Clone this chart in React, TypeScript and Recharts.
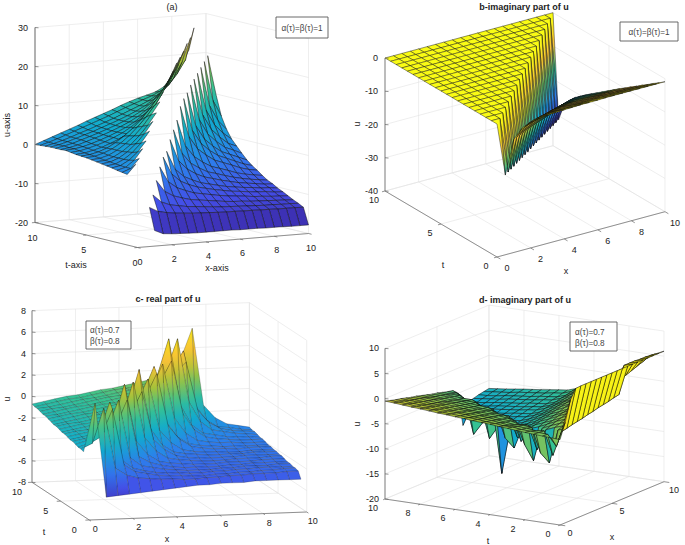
import React from 'react';
import { ScatterChart, Scatter, XAxis, YAxis } from 'recharts';

const N = null;

// grid coordinates
const stepGrid = [0,0.5,1,1.5,2,2.5,3,3.5,4,4.5,5,5.5,6,6.5,7,7.5,8,8.5,9,9.5,10];
const xC = [0,0.53,1.05,1.58,2.11,2.63,3.16,3.68,4.21,4.74,5.26,5.79,6.32,6.84,7.37,7.89,8.42,8.95,9.47,10];
const tC = [1,1.47,1.95,2.42,2.89,3.37,3.84,4.32,4.79,5.26,5.74,6.21,6.68,7.16,7.63,8.11,8.58,9.05,9.53,10];

// panel a: u(x,t), rows by t
const uA = [
[N,-15,-16,-17,-17.2,-17.3,-17.4,-17.5,-17.5,-17.5,-17.5,-17.5,-17.6,-17.6,-17.6,-17.7,-17.7,-17.7,-17.8,-17.8,-17.8],
[-2,N,-10.4,-11.6,-12.1,-12.4,-12.6,-12.8,-12.9,-13,-13.1,-13.2,-13.2,-13.3,-13.3,-13.4,-13.4,-13.5,-13.5,-13.5,-13.6],
[-1.9,.5,N,-7.7,-9.7,-10.6,-11,-11.4,-11.6,-11.8,-12,-12.2,-12.3,-12.4,-12.5,-12.6,-12.7,-12.7,-12.8,-12.8,-12.9],
[-1.7,-.9,1.5,N,-4.5,-7.5,-8.8,-9.5,-10.1,-10.4,-10.7,-11,-11.3,-11.5,-11.6,-11.8,-11.9,-12,-12.1,-12.2,-12.3],
[-1.5,-.9,.7,3.5,N,-1.5,-5.5,-7.2,-8.1,-8.9,-9.3,-9.7,-10.1,-10.4,-10.6,-10.8,-11.1,-11.2,-11.4,-11.5,-11.6],
[-1.2,-.8,.4,2.3,5,N,.5,-4,-6,-7.1,-7.9,-8.4,-8.9,-9.3,-9.7,-9.9,-10.2,-10.4,-10.5,-10.8,-10.9],
[-1,-.7,.3,1.9,4.1,7,N,1.5,-3.3,-5.3,-6.4,-7.3,-7.8,-8.3,-8.8,-9.1,-9.4,-9.6,-9.9,-10,-10.3],
[-.8,-.5,.3,1.7,3.6,6,9,N,4,-1.6,-3.9,-5.3,-6.3,-6.9,-7.5,-8,-8.5,-8.8,-9.1,-9.4,-9.5],
[-.6,-.4,.3,1.5,3.1,5.2,7.7,10.7,N,6,-.2,-2.9,-4.3,-5.5,-6.1,-6.8,-7.4,-7.9,-8.3,-8.6,-8.9],
[-.4,-.2,.4,1.5,3,4.8,7.1,9.9,13,N,8,1.2,-1.7,-3.3,-4.6,-5.3,-6,-6.8,-7.3,-7.7,-8],
[-.2,0,.6,1.5,2.8,4.5,6.6,9,11.8,15,N,11,3.1,-.2,-2,-3.5,-4.3,-5.1,-6,-6.6,-7],
[-.1,.1,.6,1.4,2.6,4.1,5.9,8,10.5,13.3,16.5,N,12.5,4.2,.7,-1.3,-2.8,-3.7,-4.6,-5.5,-6.1],
[0,.2,.7,1.3,2.1,3,4.2,5.6,7.5,10,13.5,17.5,N,13.5,4.9,1.3,-.7,-2.3,-3.2,-4.1,-5],
[.2,.4,.9,1.5,2.2,3.1,4.1,5.4,7,9,11.8,15,19,N,15,6,2.1,0,-1.7,-2.6,-3.6],
[.4,.6,1,1.6,2.3,3.1,4,5,6.2,7.7,9.6,12.4,16,20.5,N,16,6.7,2.8,.6,-1.2,-2.1],
[.3,.6,1.1,1.8,2.5,3.2,4,4.9,5.9,7.1,8.6,10.6,13.2,17,21.5,N,17,7.4,3.4,1.1,-.6],
[.3,.7,1.2,1.9,2.6,3.3,4.1,4.9,5.8,6.8,8,9.6,11.6,14.4,18,22.5,N,18,8.1,4,1.6],
[.3,.7,1.3,2,2.7,3.4,4.2,5,5.8,6.7,7.7,8.8,10.2,12,14.8,19,24,N,19,8.9,4.6],
[.2,.7,1.3,2,2.8,3.5,4.3,5.1,5.9,6.8,7.7,8.6,9.6,10.8,12.4,15,19,25,N,20,9.6],
[.1,.7,1.4,2.2,3,3.8,4.6,5.4,6.2,7.1,8,8.8,9.6,10.4,11.4,12.8,15.5,19,27,N,21],
[0,.8,1.6,2.4,3.2,4,4.9,5.7,6.5,7.3,8.2,9,9.7,10.3,10.9,12,14.5,17,21,30,N],
];

// panel b
const uB = [
[0,-16,-6,-3.3,-2.1,-1.7,-1.4,-1.3,-1.2,-1.1,-1,-1,-1,-.9,-.9,-.9,-.9,-.9,-.9,-.9,-.9],
[0,0,-16.8,-7,-4.5,-3.3,-2.9,-2.6,-2.5,-2.4,-2.4,-2.3,-2.2,-2.2,-2.2,-2.2,-2.2,-2.2,-2.2,-2.2,-2.2],
[0,0,0,-17.6,-8.1,-5.7,-4.5,-4.1,-3.8,-3.8,-3.7,-3.6,-3.5,-3.4,-3.4,-3.4,-3.4,-3.4,-3.4,-3.4,-3.4],
[0,0,0,0,-18.4,-9.2,-6.9,-5.7,-5.3,-5.1,-5,-4.9,-4.9,-4.8,-4.7,-4.7,-4.7,-4.7,-4.7,-4.7,-4.7],
[0,0,0,0,0,-19.2,-10.3,-8,-7,-6.6,-6.3,-6.2,-6.2,-6.1,-6,-5.9,-5.9,-5.9,-5.9,-5.9,-5.9],
[0,0,0,0,0,0,-20,-11.4,-9.2,-8.2,-7.8,-7.5,-7.5,-7.4,-7.3,-7.3,-7.2,-7.2,-7.2,-7.2,-7.2],
[0,0,0,0,0,0,0,-20.8,-12.5,-10.4,-9.4,-9,-8.8,-8.7,-8.6,-8.6,-8.5,-8.4,-8.4,-8.4,-8.4],
[0,0,0,0,0,0,0,0,-21.6,-13.6,-11.6,-10.6,-10.2,-10,-9.9,-9.9,-9.8,-9.8,-9.7,-9.7,-9.7],
[0,0,0,0,0,0,0,0,0,-22.4,-14.7,-12.7,-11.8,-11.5,-11.2,-11.2,-11.1,-11.1,-11,-10.9,-10.9],
[0,0,0,0,0,0,0,0,0,0,-23.2,-15.8,-13.9,-13,-12.7,-12.5,-12.4,-12.4,-12.3,-12.3,-12.2],
[0,0,0,0,0,0,0,0,0,0,0,-24,-16.9,-15.1,-14.2,-13.9,-13.7,-13.7,-13.6,-13.6,-13.5],
[0,0,0,0,0,0,0,0,0,0,0,0,-24.8,-18,-16.3,-15.5,-15.2,-15,-14.9,-14.9,-14.8],
[0,0,0,0,0,0,0,0,0,0,0,0,0,-25.6,-19.1,-17.5,-16.7,-16.4,-16.2,-16.1,-16.1],
[0,0,0,0,0,0,0,0,0,0,0,0,0,0,-26.4,-20.2,-18.6,-17.9,-17.6,-17.4,-17.4],
[0,0,0,0,0,0,0,0,0,0,0,0,0,0,0,-27.2,-21.3,-19.8,-19.1,-18.8,-18.7],
[0,0,0,0,0,0,0,0,0,0,0,0,0,0,0,0,-28,-22.4,-21,-20.3,-20.1],
[0,0,0,0,0,0,0,0,0,0,0,0,0,0,0,0,0,-28.8,-23.5,-22.2,-21.5],
[0,0,0,0,0,0,0,0,0,0,0,0,0,0,0,0,0,0,-29.6,-24.6,-23.3],
[0,0,0,0,0,0,0,0,0,0,0,0,0,0,0,0,0,0,0,-30.4,-25.7],
[0,0,0,0,0,0,0,0,0,0,0,0,0,0,0,0,0,0,0,0,-31.2],
[0,0,0,0,0,0,0,0,0,0,0,0,0,0,0,0,0,0,0,0,0],
];

// panel c
const uC = [
[-2,2.5,-6.3,-6.2,-6.1,-6,-5.9,-5.8,-5.7,-5.6,-5.5,-5.5,-5.4,-5.4,-5.4,-5.3,-5.3,-5.3,-5.3,-5.3],
[-1.9,-1.4,1.8,-3.8,-4.5,-4.8,-4.9,-5,-5,-5.1,-5.1,-5,-5,-4.9,-4.9,-4.8,-4.8,-4.8,-4.7,-4.7],
[-1.9,-1.6,-1,1.5,-3.7,-4.4,-4.6,-4.8,-4.9,-4.9,-5,-5,-4.9,-4.9,-4.8,-4.8,-4.7,-4.7,-4.6,-4.6],
[-1.8,-1.5,-1,2,-3.4,-4.2,-4.5,-4.7,-4.8,-4.8,-4.9,-4.9,-4.8,-4.8,-4.7,-4.7,-4.6,-4.6,-4.6,-4.6],
[-1.7,-1.5,-1.2,-.7,2,-3.4,-4.2,-4.4,-4.6,-4.7,-4.8,-4.8,-4.8,-4.7,-4.7,-4.6,-4.6,-4.6,-4.5,-4.5],
[-1.7,-1.5,-1.3,-1.1,-.6,1.8,-3.5,-4.1,-4.4,-4.6,-4.7,-4.7,-4.7,-4.7,-4.6,-4.6,-4.5,-4.5,-4.5,-4.5],
[-1.6,-1.4,-1.2,-1,-.5,3.1,-2.2,-3.5,-4.2,-4.4,-4.5,-4.6,-4.6,-4.6,-4.5,-4.5,-4.5,-4.4,-4.4,-4.4],
[-1.5,-1.3,-1.2,-1,-.8,-.3,3.1,-2.1,-3.4,-4.1,-4.3,-4.4,-4.5,-4.5,-4.5,-4.4,-4.4,-4.4,-4.3,-4.3],
[-1.5,-1.3,-1.1,-.9,-.8,-.6,-.1,2,-2.5,-3.5,-4.1,-4.3,-4.4,-4.4,-4.4,-4.4,-4.3,-4.3,-4.3,-4.3],
[-1.4,-1.2,-1,-.9,-.7,-.5,.4,3.9,-1.7,-3.2,-3.9,-4.1,-4.2,-4.3,-4.3,-4.3,-4.3,-4.2,-4.2,-4.2],
[-1.3,-1.1,-1,-.8,-.6,-.4,-.2,.6,2.8,-2,-3.2,-3.9,-4.1,-4.2,-4.2,-4.3,-4.3,-4.2,-4.2,-4.2],
[-1.3,-1.1,-.9,-.7,-.5,-.4,-.2,0,.9,3.1,-1.8,-3.1,-3.8,-4,-4.1,-4.1,-4.2,-4.1,-4.1,-4.1],
[-1.2,-1,-.8,-.6,-.5,-.3,-.1,.1,1.1,3.6,-1.5,-3,-3.7,-3.9,-4,-4.1,-4.1,-4.1,-4.1,-4.1],
[-1.1,-.9,-.7,-.6,-.4,-.2,0,.1,.3,1.3,3.6,-1.4,-2.9,-3.6,-3.8,-3.9,-3.9,-4,-4,-4],
[-1,-.9,-.7,-.5,-.3,-.1,0,.2,.4,.6,1.7,3.7,-1.3,-2.8,-3.5,-3.7,-3.8,-3.9,-3.9,-3.9],
[-1,-.8,-.6,-.4,-.3,-.1,.1,.3,.4,.7,2.2,5.6,-.6,-2.5,-3.3,-3.5,-3.7,-3.8,-3.8,-3.9],
[-.9,-.7,-.6,-.4,-.2,0,.2,.3,.5,.7,.9,2.4,5.4,-.5,-2.4,-3.2,-3.4,-3.6,-3.7,-3.8],
[-.8,-.7,-.5,-.3,-.1,0,.2,.4,.6,.8,1,1.2,2,3,-1.5,-2.7,-3.3,-3.5,-3.6,-3.7],
[-.8,-.6,-.4,-.2,-.1,.1,.3,.5,.6,.8,1,1.2,2.2,3.9,-1.2,-2.6,-3.3,-3.4,-3.6,-3.7],
[-.7,-.5,-.3,-.1,0,.2,.4,.5,.7,.9,1.1,1.2,1.5,3,5.8,-1.4,-2.6,-3.2,-3.4,-3.6],
];

// panel d
const uD = [
[-3,0,4,5.9,6,6,6,6,6,6,6,6,6,6,6,6,6,6,6,6,6],
[-2.9,-5,-2.5,-2.3,-2,-1.8,-1.6,-1.3,-1.1,-.8,-.6,-.4,-.1,.1,5.5,5.5,5.5,5.4,5.4,5.3,5.2],
[-2.8,-2.9,-7.5,-2.9,-2.5,-2.1,-1.7,-1.3,-.9,-.5,-.1,.4,.8,1.2,1.6,2,2.4,2.8,3.2,3.6,4],
[-2.7,-2.8,-2.9,-9.7,-3.1,-2.7,-2.3,-1.9,-1.6,-1.2,-.8,-.4,0,.3,.7,1.1,1.5,1.9,2.2,2.6,3],
[-2.6,-2.8,-3.1,-8,-3.8,-3.4,-3,-2.7,-2.3,-2,-1.6,-1.2,-.9,-.5,-.2,.2,.6,.9,1.3,1.6,2],
[-2.45,-2.7,-2.9,-3.2,-8,-4.2,-3.8,-3.5,-3.1,-2.8,-2.5,-2.1,-1.8,-1.4,-1.1,-.7,-.4,0,.3,.7,1],
[-2.3,-2.5,-2.8,-3,-3.4,-10.9,-4.6,-4.2,-3.9,-3.6,-3.3,-2.9,-2.6,-2.3,-2,-1.6,-1.3,-1,-.7,-.3,0],
[-2.2,-2.5,-2.8,-3.1,-3.5,-8,-5.2,-4.9,-4.6,-4.3,-4,-3.7,-3.4,-3.1,-2.8,-2.5,-2.2,-1.9,-1.6,-1.3,-1],
[-2,-2.3,-2.6,-2.9,-3.1,-3.6,-8,-5.8,-5.5,-5.2,-4.9,-4.6,-4.3,-4,-3.7,-3.5,-3.2,-2.9,-2.6,-2.3,-2],
[-1.9,-2.2,-2.4,-2.7,-3,-3.2,-3.8,-8,-6.2,-6,-5.7,-5.4,-5.2,-4.9,-4.6,-4.4,-4.1,-3.8,-3.5,-3.3,-3],
[-1.8,-2,-2.3,-2.5,-2.8,-3,-3.3,-3.9,-10.7,-6.6,-6.4,-6.2,-5.9,-5.7,-5.4,-5.2,-5,-4.7,-4.5,-4.2,-4],
[-1.65,-1.9,-2.2,-2.4,-2.7,-2.9,-3.2,-4,-9,-7.2,-7,-6.8,-6.5,-6.3,-6,-5.8,-5.6,-5.3,-5.1,-4.8,-4.6],
[-1.55,-1.8,-2,-2.3,-2.5,-2.8,-3,-3.3,-4.1,-16.7,-7.2,-7,-6.7,-6.5,-6.2,-6,-5.8,-5.5,-5.3,-5,-4.8],
[-1.4,-1.7,-1.9,-2.2,-2.4,-2.7,-2.9,-3.2,-3.4,-4.2,-8,-7.2,-7,-6.7,-6.5,-6.3,-6,-5.8,-5.5,-5.3,-5.05],
[-1.3,-1.6,-1.8,-2.1,-2.3,-2.6,-2.8,-3.1,-3.3,-4.3,-10.7,-7.5,-7.2,-7,-6.7,-6.5,-6.3,-6,-5.8,-5.5,-5.3],
[-1.15,-1.4,-1.7,-1.9,-2.2,-2.4,-2.7,-2.9,-3.2,-3.4,-4.4,-8,-7.4,-7.2,-6.9,-6.7,-6.5,-6.2,-6,-5.7,-5.5],
[-1,-1.3,-1.5,-1.8,-2,-2.3,-2.5,-2.8,-3,-3.3,-3.5,-4.5,-9,-7.4,-7.1,-6.9,-6.7,-6.4,-6.2,-5.9,-5.7],
[-.9,-1.2,-1.4,-1.7,-2,-2.2,-2.5,-2.8,-3,-3.3,-3.5,-4.6,-11.5,-7.6,-7.4,-7.2,-6.9,-6.7,-6.4,-6.2,-5.95],
[-.75,-1,-1.3,-1.5,-1.8,-2.1,-2.3,-2.6,-2.9,-3.1,-3.4,-3.6,-4.7,-9,-7.6,-7.4,-7.2,-6.9,-6.7,-6.4,-6.2],
[-.6,-.9,-1.1,-1.4,-1.7,-1.9,-2.2,-2.5,-2.8,-3,-3.3,-3.6,-3.8,-4.8,-8,-7.6,-7.4,-7.1,-6.9,-6.6,-6.4],
[-.5,-.8,-1.1,-1.3,-1.6,-1.9,-2.1,-2.4,-2.7,-3,-3.2,-3.5,-3.8,-4,-4.9,-11.8,-7.5,-7.3,-7,-6.8,-6.6],
];

const ticksEvenX = [0,2,4,6,8,10];
const ticksT5 = [0,5,10];
const ticksUA = [-20,-10,0,10,20,30];
const ticksUB = [-40,-30,-20,-10,0];
const ticksUC = [-8,-6,-4,-2,0,2,4,6,8];
const ticksUD = [-20,-15,-10,-5,0,5,10];

const parula: [number,number,number][] = [
[.2422,.1504,.6603],[.2810,.3228,.9579],[.1786,.5289,.9682],[.0689,.6948,.8394],
[.2161,.7843,.5923],[.6720,.7793,.2227],[.9970,.7659,.2199],[.9606,.8963,.1],[.9769,.9839,.0805]];

function colorAt(f: number, dim = 0.94) {
  const v = Math.max(0, Math.min(0.9999, f)) * (parula.length - 1);
  const i = Math.floor(v), r = v - i;
  const a = parula[i], b = parula[i + 1];
  const s = 1 - (1 - dim) * (1 - Math.min(1, f));
  const ch = (k: number) => Math.round(255 * s * (a[k] + (b[k] - a[k]) * r));
  return `rgb(${ch(0)},${ch(1)},${ch(2)})`;
}

type Cam = { o:[number,number]; ex:[number,number]; et:[number,number]; eu:number; umin:number; umax:number };
const project = (c: Cam, x: number, t: number, u: number): [number,number] => [
  c.o[0] + x * c.ex[0] + t * c.et[0],
  c.o[1] + x * c.ex[1] + t * c.et[1] - (u - c.umin) * c.eu,
];

const poly = (pts: [number,number][], style: any) => ({
  kind: 'poly', px: pts[0][0], py: pts[0][1],
  pts: pts.map(p => [p[0] - pts[0][0], p[1] - pts[0][1]]), ...style,
});
const label = (px: number, py: number, text: string, style: any = {}) => ({ kind: 'text', px, py, text, ...style });

const PANELS: any[] = [
  { id:'a', cam:{o:[137.5,247.5],ex:[17.1,-1.4],et:[-10.25,-2.5],eu:3.9,umin:-20,umax:30},
    xs:stepGrid, ts:stepGrid, u:uA, clim:[-18,42], flat:false, sw:.55, so:.85,
    tx:ticksEvenX, tt:ticksT5, tu:ticksUA, ox:[2.5,14], ot:[-2.5,15], ou:-7, axisW:1.3, axisC:'#8c8c8c',
    title:'(a)', titleAt:[172,7], titleBold:false, xl:['x-axis',217,268], tl:['t-axis',76,265], ul:['u-axis',7,125],
    box:[276,17,52,21], legend:[['α(τ)=β(τ)=1',302,28,'middle']] },
  { id:'b', cam:{o:[497,257],ex:[16.8,-4.53],et:[-11.2,-6.6],eu:3.325,umin:-40,umax:0},
    xs:stepGrid, ts:stepGrid, u:uB, clim:[-31,0], flat:false, sw:.5, so:.85,
    tx:ticksEvenX, tt:ticksT5, tu:ticksUB, ox:[10,11], ot:[-11,9], ou:-7, axisW:.8, axisC:'#666',
    title:'b-imaginary part of u', titleAt:[524,7], titleBold:true, xl:['x',566,271], tl:['t',443,265], ul:['u',357,124],
    box:[620,22,58,19], legend:[['α(τ)=β(τ)=1',649,32,'middle']] },
  { id:'c', cam:{o:[89.3,520],ex:[21.74,-.8],et:[-5.73,-3.77],eu:10.73,umin:-8,umax:8},
    xs:xC, ts:tC, u:uC, clim:[-7.5,7.5], flat:false, sw:.4, so:.55,
    tx:ticksEvenX, tt:ticksT5, tu:ticksUC, ox:[6,9], ot:[-15,10], ou:-6, axisW:.8, axisC:'#666',
    title:'c- real part of u', titleAt:[168,299], titleBold:true, xl:['x',167,539], tl:['t',44,532], ul:['u',7,399],
    box:[86,321,45,28], legend:[['α(τ)=0.7',90,330,'start'],['β(τ)=0.8',90,341,'start']] },
  { id:'d', cam:{o:[560,525],ex:[10.4,-4.33],et:[-17.5,-2.6],eu:5.02,umin:-20,umax:10},
    xs:stepGrid, ts:stepGrid, u:uD, clim:[-16,7], flat:true, sw:.6, so:.85,
    tx:ticksT5, tt:ticksEvenX, tu:ticksUD, ox:[10,8], ot:[-12,9], ou:-6, axisW:.8, axisC:'#666',
    title:'d- imaginary part of u', titleAt:[525,300], titleBold:true, xl:['x',612,537], tl:['t',488,541], ul:['u',357,424],
    box:[570,322,47,29], legend:[['α(τ)=0.7',575,332,'start'],['β(τ)=0.8',575,343,'start']] },
];

function buildWalls(p: any) {
  const c: Cam = p.cam; const out: any[] = [];
  const g = { stroke:'#e2e2e2', sw:.6 };
  const seg = (a:[number,number], b:[number,number], s:any) => out.push(poly([a,b], s));
  for (const x of p.tx) {
    seg(project(c,x,0,c.umin), project(c,x,10,c.umin), g);
    seg(project(c,x,10,c.umin), project(c,x,10,c.umax), g);
  }
  for (const t of p.tt) {
    seg(project(c,0,t,c.umin), project(c,10,t,c.umin), g);
    seg(project(c,10,t,c.umin), project(c,10,t,c.umax), g);
  }
  for (const u of p.tu) {
    seg(project(c,0,10,u), project(c,10,10,u), g);
    seg(project(c,10,10,u), project(c,10,0,u), g);
  }
  return out;
}

function buildSurface(p: any) {
  const c: Cam = p.cam; const [lo,hi] = p.clim; const f = (v:number) => (v-lo)/(hi-lo);
  const facets: any[] = [];
  for (let j = 0; j < p.ts.length - 1; j++) for (let i = 0; i < p.xs.length - 1; i++) {
    const cs: [number,number][] = [[i,j],[i+1,j],[i+1,j+1],[i,j+1]];
    const us = cs.map(([a,b]) => p.u[b][a]);
    if (us.some((v:any) => v === null)) continue;
    const pts = cs.map(([a,b],k) => project(c,p.xs[a],p.ts[b],us[k]));
    const depth = cs.reduce((s,[a,b]) => s + p.xs[a]*c.ex[1] + p.ts[b]*c.et[1], 0);
    const mx = Math.max(...us), mn = Math.min(...us);
    const mean = us.reduce((s:number,v:number)=>s+v,0)/4;
    const st: any = { stroke:'#0c0c0c', sw:p.sw, so:p.so, close:true };
    if (p.flat) st.fill = colorAt(f(Math.max(us[0], mean)));
    else if (f(mx) - f(mn) > .12) {
      const a = pts[us.indexOf(mx)], b = pts[us.indexOf(mn)];
      st.grad = { id:`g${p.id}${i}_${j}`, a:[a[0]-pts[0][0],a[1]-pts[0][1]], b:[b[0]-pts[0][0],b[1]-pts[0][1]],
        stops:[0,.25,.5,.75,1].map(q => colorAt(f(mx + (mn-mx)*q))) };
    } else st.fill = colorAt(f(mean));
    facets.push({ depth, rec: poly(pts, st) });
  }
  facets.sort((a,b) => a.depth - b.depth);
  return facets.map(x => x.rec);
}

function buildFrame(p: any) {
  const c: Cam = p.cam; const out: any[] = [];
  const ax = { stroke:p.axisC, sw:p.axisW };
  const tk = { stroke:'#666', sw:.7 };
  out.push(poly([project(c,0,10,c.umin), project(c,0,10,c.umax)], ax));
  out.push(poly([project(c,0,0,c.umin), project(c,10,0,c.umin)], { stroke:'#777', sw:.8 }));
  out.push(poly([project(c,0,0,c.umin), project(c,0,10,c.umin)], { stroke:'#777', sw:.8 }));
  for (const x of p.tx) {
    const a = project(c,x,0,c.umin);
    out.push(poly([a,[a[0]+c.et[0]*-.3,a[1]+c.et[1]*-.3]], tk));
    out.push(label(a[0]+p.ox[0], a[1]+p.ox[1], String(x)));
  }
  for (const t of p.tt) {
    const a = project(c,0,t,c.umin);
    out.push(poly([a,[a[0]+c.ex[0]*-.18,a[1]+c.ex[1]*-.18]], tk));
    out.push(label(a[0]+p.ot[0], a[1]+p.ot[1], String(t)));
  }
  for (const u of p.tu) {
    const a = project(c,0,10,u);
    out.push(poly([a,[a[0]+3.5,a[1]+.3]], tk));
    out.push(label(a[0]+p.ou, a[1], String(u), { anchor:'end' }));
  }
  out.push(label(p.titleAt[0], p.titleAt[1], p.title, { bold:p.titleBold, size:9 }));
  out.push(label(p.xl[1], p.xl[2], p.xl[0]));
  out.push(label(p.tl[1], p.tl[2], p.tl[0]));
  out.push(label(p.ul[1], p.ul[2], p.ul[0], { rotate:-90 }));
  const [bx,by,bw,bh] = p.box;
  out.push(poly([[bx,by],[bx+bw,by],[bx+bw,by+bh],[bx,by+bh]], { stroke:'#5a5a5a', sw:.9, fill:'#fff', close:true }));
  for (const [s,lx,ly,an] of p.legend) out.push(label(lx, ly, s, { anchor:an, size:8.2, color:'#444' }));
  return out;
}

function Mark(props: any) {
  const { cx, cy, payload: d } = props;
  if (d.kind === 'text') {
    return (
      <text x={cx} y={cy} textAnchor={d.anchor || 'middle'} dominantBaseline="central"
        fontFamily="Liberation Sans, Arial, sans-serif" fontSize={d.size || 9}
        fontWeight={d.bold ? 700 : 400} fill={d.color || '#222'}
        transform={d.rotate ? `rotate(${d.rotate} ${cx} ${cy})` : undefined}>{d.text}</text>
    );
  }
  const pts = d.pts.map((q: number[]) => `${(cx + q[0]).toFixed(2)},${(cy + q[1]).toFixed(2)}`).join(' ');
  if (!d.close) return <polyline points={pts} fill="none" stroke={d.stroke} strokeWidth={d.sw} />;
  if (d.grad) {
    const g = d.grad;
    return (
      <g>
        <defs>
          <linearGradient id={g.id} gradientUnits="userSpaceOnUse"
            x1={cx + g.a[0]} y1={cy + g.a[1]} x2={cx + g.b[0]} y2={cy + g.b[1]}>
            {g.stops.map((s: string, k: number) => <stop key={k} offset={k / 4} stopColor={s} />)}
          </linearGradient>
        </defs>
        <polygon points={pts} fill={`url(#${g.id})`} stroke={d.stroke} strokeWidth={d.sw} strokeOpacity={d.so} />
      </g>
    );
  }
  return <polygon points={pts} fill={d.fill} stroke={d.stroke} strokeWidth={d.sw} strokeOpacity={d.so ?? 1} />;
}

const layers = PANELS.flatMap(p => [
  { key:`${p.id}-walls`, data:buildWalls(p) },
  { key:`${p.id}-surface`, data:buildSurface(p) },
  { key:`${p.id}-frame`, data:buildFrame(p) },
]);

export default function App() {
  return (
    <div style={{ position:'absolute', left:0, top:0, width:685, height:545, background:'#fff' }}>
      <ScatterChart width={685} height={545} margin={{ top:0, right:0, bottom:0, left:0 }}>
        <XAxis type="number" dataKey="px" domain={[0,685]} hide />
        <YAxis type="number" dataKey="py" domain={[0,545]} reversed hide />
        {layers.map(l => (
          <Scatter key={l.key} data={l.data} shape={Mark} isAnimationActive={false} />
        ))}
      </ScatterChart>
    </div>
  );
}
